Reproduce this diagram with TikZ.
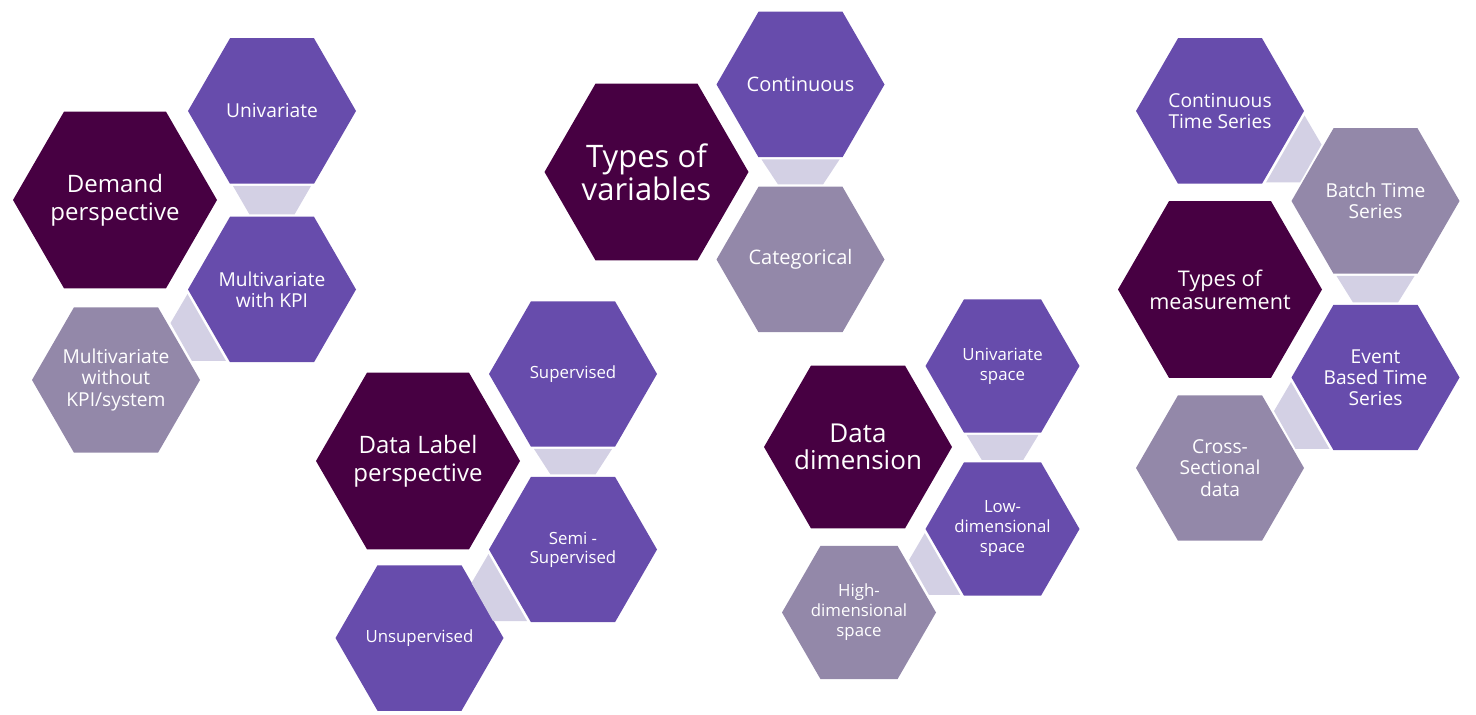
\documentclass[tikz,border=0pt]{standalone}
\usepackage{fontspec}
\setmainfont{Open Sans}
\usetikzlibrary{shapes.geometric,calc}
\definecolor{plum}{RGB}{71,0,66}
\definecolor{iris}{RGB}{103,76,172}
\definecolor{mauve}{RGB}{147,136,169}
\definecolor{lilac}{RGB}{211,208,228}
\tikzset{
  hex/.style={regular polygon,regular polygon sides=6,inner sep=-30pt,text=white,align=center},
  hexbig/.style={hex,fill=plum,minimum size=102pt,font=\fontsize{12}{13.8}\selectfont},
  hexsmall/.style={hex,fill=iris,minimum size=84pt,font=\fontsize{9.6}{10.6}\selectfont},
  link/.style={fill=lilac}
}
% bridge between an upper and a lower hexagon: upper, lower, scale
\newcommand{\vbridge}[3]{%
  \fill[link] ($(#1)+({-39*#3},{75*#3})$) -- ($(#1)+({39*#3},{75*#3})$)
    -- ($(#2)+({22.5*#3},{-75*#3})$) -- ($(#2)+({-22.5*#3},{-75*#3})$) -- cycle;}
% bridge hanging from the side corner of a hexagon: hexagon, side, scale
\newcommand{\dbridge}[3]{%
  \fill[link] ($(#1)+({84.5*#2*#3},{4.5*#3})$) -- ($(#1)+({101.5*#2*#3},{33.5*#3})$)
    -- ($(#1)+({80*#2*#3},{71.5*#3})$) -- ($(#1)+({46*#2*#3},{71.5*#3})$) -- cycle;}

\begin{document}
\begin{tikzpicture}[x=0.5pt,y=-0.5pt]
  \useasboundingbox (0,0) rectangle (1476,715);

  % demand perspective
  \node[hexbig] (demand) at (115,200) {Demand\\perspective};
  \node[hexsmall] (univ) at (272,111) {Univariate};
  \node[hexsmall] (mwkpi) at (272,289.5) {Multivariate\\with KPI};
  \node[hexsmall,fill=mauve] (mwokpi) at (116,380) {Multivariate\\without\\KPI/system};
  \vbridge{univ}{mwkpi}{1}
  \dbridge{mwkpi}{-1}{1}

  % data label perspective
  \node[hexbig] (label) at (418,461) {Data Label\\perspective};
  \node[hexsmall,font=\fontsize{8.4}{9.4}\selectfont] (sup) at (573,374) {Supervised};
  \node[hexsmall,font=\fontsize{8.4}{9.4}\selectfont] (semi) at (573,549.5) {Semi -\\Supervised};
  \node[hexsmall,font=\fontsize{8.4}{9.4}\selectfont] (unsup) at (419.5,638) {Unsupervised};
  \vbridge{sup}{semi}{1}
  \dbridge{semi}{-1}{1}

  % types of variables
  \node[hexbig,font=\fontsize{15.5}{16.5}\selectfont] (vars) at (646.5,172) {Types of\\variables};
  \node[hexsmall,font=\fontsize{10}{11}\selectfont] (cont) at (800.5,84.5) {Continuous};
  \node[hexsmall,fill=mauve,font=\fontsize{10}{11}\selectfont] (categ) at (800.5,259.5) {Categorical};
  \vbridge{cont}{categ}{1}

  % data dimension
  \node[hexbig,minimum size=94pt,font=\fontsize{13}{13.8}\selectfont] (dim) at (858,447) {Data\\dimension};
  \node[hexsmall,minimum size=77pt,font=\fontsize{8.4}{10}\selectfont] (unisp) at (1002.5,366) {Univariate\\space};
  \node[hexsmall,minimum size=77pt,font=\fontsize{8.4}{10}\selectfont] (lowdim) at (1002.5,529) {Low-\\dimensional\\space};
  \node[hexsmall,minimum size=77pt,fill=mauve,font=\fontsize{8.4}{10}\selectfont] (highdim) at (859,612.5) {High-\\dimensional\\space};
  \vbridge{unisp}{lowdim}{0.92}
  \dbridge{lowdim}{-1}{0.92}

  % types of measurement
  \node[hexbig,font=\fontsize{10.8}{11.6}\selectfont] (meas) at (1220,289.5) {Types of\\measurement};
  \node[hexsmall] (cts) at (1220,111) {Continuous\\Time Series};
  \node[hexsmall,fill=mauve] (batch) at (1375.5,201) {Batch Time\\Series};
  \node[hexsmall] (event) at (1375.5,377.5) {Event\\Based Time\\Series};
  \node[hexsmall,fill=mauve] (cross) at (1220,468) {Cross-\\Sectional\\data};
  \dbridge{cts}{1}{1}
  \vbridge{batch}{event}{1}
  \dbridge{event}{-1}{1}
\end{tikzpicture}
\end{document}
